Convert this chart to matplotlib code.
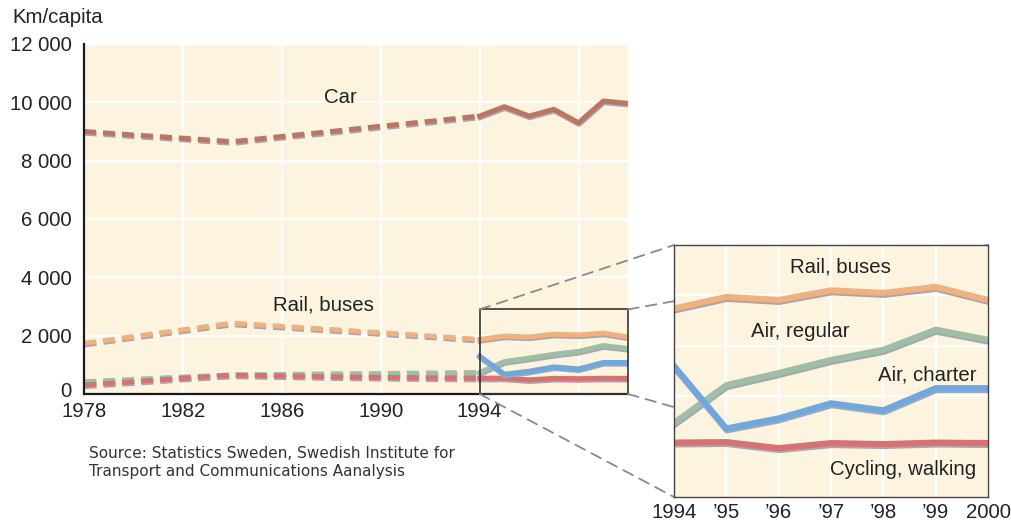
import matplotlib
matplotlib.use('Agg')
import matplotlib.pyplot as plt
import matplotlib.patheffects as pe
import matplotlib.transforms as mtransforms
from matplotlib.patches import Rectangle, ConnectionPatch

plt.rcParams['font.family'] = ['Liberation Sans', 'DejaVu Sans']

# km per capita, dashed period (every second year) and yearly period 1994-2000
years_early = [1978, 1980, 1982, 1984, 1986, 1988, 1990, 1992, 1994]
years_late = [1994, 1995, 1996, 1997, 1998, 1999, 2000]

car_early = [9000, 8880, 8770, 8650, 8830, 9000, 9180, 9350, 9530]
car_late = [9530, 9850, 9530, 9760, 9300, 10045, 9965]

rail_early = [1740, 1970, 2200, 2430, 2320, 2210, 2100, 1990, 1870]
rail_late = [1870, 1985, 1955, 2050, 2025, 2085, 1955]

air_reg_early = [420, 500, 580, 650, 670, 690, 700, 720, 735]
air_reg_late = [735, 1110, 1230, 1360, 1460, 1660, 1560]

air_charter_late = [1300, 680, 780, 930, 860, 1080, 1080]

cycling_early = [310, 420, 540, 650, 620, 590, 570, 550, 540]
cycling_late = [540, 545, 485, 535, 525, 540, 535]

main_xticks = [1978, 1982, 1986, 1990, 1994, 1998]
main_xlabels = ['1978', '1982', '1986', '1990', '1994', '']
inset_xlabels = ['1994', '\u201995', '\u201996', '\u201997', '\u201998', '\u201999', '2000']

bg = '#fdf4e0'
c_car = '#bd7561'
c_rail = '#f1b17e'
c_reg = '#9fbea6'
c_chart = '#6ea8e0'
c_cyc = '#d87272'
shadow = [pe.SimpleLineShadow(offset=(0.4, -1.2), shadow_color='#a6a6b0', alpha=1.0), pe.Normal()]
txt = '#222222'
fs = 14.7

fig = plt.figure(figsize=(10.11, 5.23), dpi=100)

# ---- main chart
ax = fig.add_axes([0.0831, 0.2467, 0.5381, 0.6692])
ax.set_facecolor(bg)
ax.set_xlim(1978, 2000)
ax.set_ylim(0, 12000)
for s in ['top', 'right']:
    ax.spines[s].set_visible(False)
for s in ['left', 'bottom']:
    ax.spines[s].set_color('#1a1a1a')
    ax.spines[s].set_linewidth(1.6)
ax.set_yticks(range(0, 12001, 2000))
ax.set_yticklabels([f'{v:,}'.replace(',', ' ') for v in range(0, 12001, 2000)])
ax.set_xticks(main_xticks)
ax.set_xticklabels(main_xlabels)
ax.tick_params(length=0, labelsize=fs, labelcolor=txt)
ax.tick_params(axis='y', pad=9)
ax.tick_params(axis='x', pad=6)
ax.grid(color='white', lw=1.6)
ax.set_axisbelow(True)

# the "0" label sits a little above the axis line
zero_lbl = ax.get_yticklabels()[0]
zero_lbl.set_transform(zero_lbl.get_transform() +
                       mtransforms.ScaledTranslation(0, 3 / 72, fig.dpi_scale_trans))

dash = (0, (2.4, 1.4))
lw = 3.6
ax.plot(years_early, car_early, color=c_car, lw=lw, ls=dash, path_effects=shadow)
ax.plot(years_late, car_late, color=c_car, lw=lw, path_effects=shadow)
ax.plot(years_early, rail_early, color=c_rail, lw=lw, ls=dash, path_effects=shadow)
ax.plot(years_late, rail_late, color=c_rail, lw=lw, path_effects=shadow)
ax.plot(years_early, air_reg_early, color=c_reg, lw=lw, ls=dash, path_effects=shadow)
ax.plot(years_late, air_reg_late, color=c_reg, lw=lw, path_effects=shadow)
ax.plot(years_early, cycling_early, color=c_cyc, lw=lw, ls=dash, path_effects=shadow)
ax.plot(years_late, cycling_late, color=c_cyc, lw=lw, path_effects=shadow)
ax.plot(years_late, air_charter_late, color=c_chart, lw=lw, path_effects=shadow)

ax.text(1988.35, 10180, 'Car', ha='center', va='center', fontsize=fs, color=txt)
ax.text(1987.7, 3050, 'Rail, buses', ha='center', va='center', fontsize=fs, color=txt)

ax.add_patch(Rectangle((1994, 0), 6, 2900, fill=False, ec='#333333', lw=1.2,
                       zorder=5, clip_on=False))

fig.text(0.012, 0.967, 'Km/capita', fontsize=fs, color=txt, ha='left', va='center')
fig.text(0.088, 0.147, 'Source: Statistics Sweden, Swedish Institute for\n'
         'Transport and Communications Aanalysis',
         fontsize=11, color='#333333', ha='left', va='top', linespacing=1.25,
         family='DejaVu Sans')

# ---- inset (zoom of 1994-2000)
ax2 = fig.add_axes([0.6667, 0.0497, 0.3106, 0.4818], zorder=3)
ax2.set_facecolor(bg)
ax2.set_xlim(1994, 2000)
ax2.set_ylim(0, 2500)
for s in ax2.spines.values():
    s.set_color('#444444')
    s.set_linewidth(1.0)
ax2.set_xticks(years_late)
ax2.set_xticklabels(inset_xlabels)
ax2.set_yticks(range(500, 2500, 500))
ax2.set_yticklabels([])
ax2.tick_params(length=0, labelsize=fs, labelcolor=txt)
ax2.tick_params(axis='x', pad=4)
ax2.grid(color='white', lw=1.6)
ax2.set_axisbelow(True)

lw2 = 4.4
shadow2 = [pe.SimpleLineShadow(offset=(0.4, -1.4), shadow_color='#a6a6b0', alpha=1.0), pe.Normal()]
ax2.plot(years_late, rail_late, color=c_rail, lw=lw2, path_effects=shadow2)
ax2.plot(years_late, air_reg_late, color=c_reg, lw=lw2, path_effects=shadow2)
ax2.plot(years_late, air_charter_late, color=c_chart, lw=lw2, path_effects=shadow2)
ax2.plot(years_late, cycling_late, color=c_cyc, lw=lw2, path_effects=shadow2)

ax2.text(1997.17, 2285, 'Rail, buses', ha='center', va='center', fontsize=fs, color=txt)
ax2.text(1996.41, 1640, 'Air, regular', ha='center', va='center', fontsize=fs, color=txt)
ax2.text(1998.83, 1210, 'Air, charter', ha='center', va='center', fontsize=fs, color=txt)
ax2.text(1998.38, 268, 'Cycling, walking', ha='center', va='center', fontsize=fs, color=txt)

# dashed connectors from rectangle corners to inset corners
for xa, ya, xb, yb in [(1994, 2900, 1994, 2500), (2000, 2900, 2000, 2500),
                       (2000, 0, 2000, 0), (1994, 0, 1994, 0)]:
    con = ConnectionPatch(xyA=(xa, ya), coordsA=ax.transData,
                          xyB=(xb, yb), coordsB=ax2.transData,
                          color='#8a8a8a', lw=1.3, ls=(0, (6, 4)), zorder=2)
    fig.add_artist(con)

fig.savefig('out.png', dpi=100)
